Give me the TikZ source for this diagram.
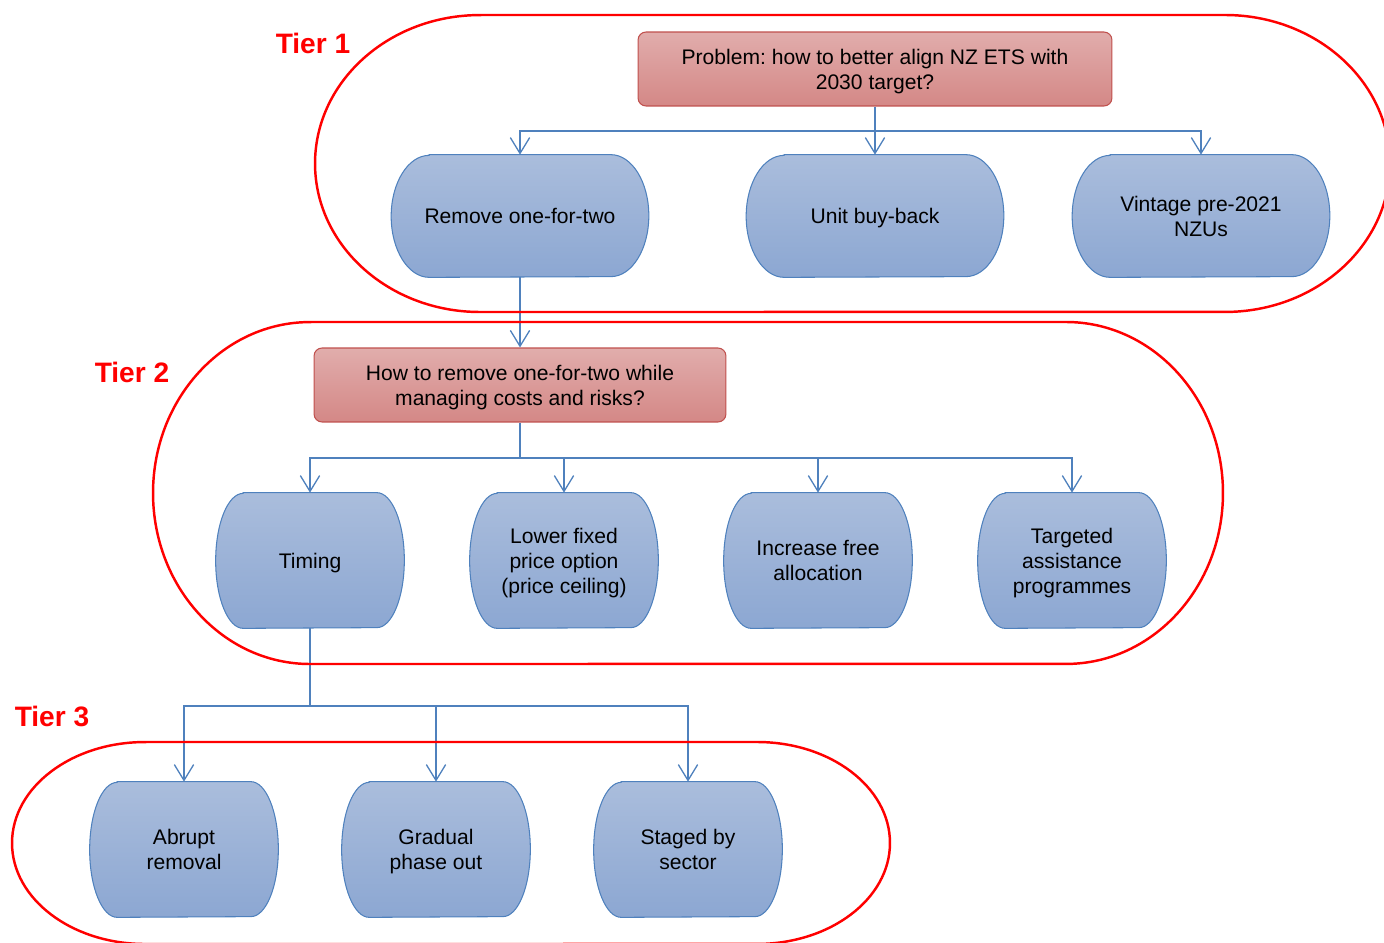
\documentclass[tikz,border=0pt]{standalone}
\usepackage{fontspec}
\setmainfont{Liberation Sans}
\usepackage{tikz}
\usepackage{xcolor}
\usetikzlibrary{arrows.meta,positioning,calc,backgrounds}
\definecolor{pilltop}{RGB}{170,189,220}
\definecolor{pillbot}{RGB}{140,167,210}
\definecolor{pillline}{RGB}{79,129,189}
\definecolor{qtop}{RGB}{225,173,172}
\definecolor{qbot}{RGB}{212,136,134}
\definecolor{qline}{RGB}{192,80,77}
\definecolor{tierred}{RGB}{255,0,0}
\frenchspacing

% flat top and bottom, bulging sides
\newcommand{\pillshape}[3]{%
  \path[top color=pilltop,bottom color=pillbot,draw=pillline,line width=0.6pt]
    ($(#1.north west)+(#2,0)$) -- ($(#1.north east)-(#2,0)$)
    arc[start angle=90,end angle=-90,x radius=#2,y radius=#3]
    -- ($(#1.south west)+(#2,0)$)
    arc[start angle=270,end angle=90,x radius=#2,y radius=#3] -- cycle;}

\begin{document}
\begin{tikzpicture}[x=0.02cm,y=-0.02cm,
  txt/.style={align=center,inner sep=0pt,text depth=0pt,font=\fontsize{12}{14.2}\selectfont},
  question/.style={txt,draw=qline,line width=0.6pt,top color=qtop,bottom color=qbot,rounded corners=0.16cm,minimum height=1.48cm},
  pillwide/.style={txt,minimum width=5.14cm,minimum height=2.44cm},
  pillnarrow/.style={txt,minimum width=3.76cm,minimum height=2.7cm},
  link/.style={draw=pillline,line width=0.75pt},
  arrowlink/.style={link,-{Straight Barb[length=9pt,width=11pt]}},
  tier/.style={draw=tierred,line width=1.4pt},
  tierlabel/.style={text=tierred,font=\fontsize{16}{19}\selectfont\bfseries}]
\useasboundingbox (0,0) rectangle (1384,943);

% Tier 1
\node[question,minimum width=9.48cm] (prob) at (875,69) {Problem: how to better align NZ ETS with\\2030 target?};
\node[pillwide] (rem) at (520,216) {Remove one-for-two};
\node[pillwide] (buy) at (875,216) {Unit buy-back};
\node[pillwide] (vint) at (1201,216) {Vintage pre-2021\\NZUs};

% Tier 2
\node[question,minimum width=8.24cm] (howto) at (520,385) {How to remove one-for-two while\\managing costs and risks?};
\node[pillnarrow] (timing) at (310,560.5) {Timing};
\node[pillnarrow] (lower) at (564,560.5) {Lower fixed\\price option\\(price ceiling)};
\node[pillnarrow] (incr) at (818,560.5) {Increase free\\allocation};
\node[pillnarrow] (targ) at (1072,560.5) {Targeted\\assistance\\programmes};

% Tier 3
\node[pillnarrow] (abrupt) at (184,849.5) {Abrupt\\removal};
\node[pillnarrow] (gradual) at (436,849.5) {Gradual\\phase out};
\node[pillnarrow] (staged) at (688,849.5) {Staged by\\sector};

\begin{scope}[on background layer]
\foreach \n in {rem,buy,vint} {\pillshape{\n}{0.76cm}{1.22cm}}
\foreach \n in {timing,lower,incr,targ,abrupt,gradual,staged} {\pillshape{\n}{0.55cm}{1.35cm}}
\end{scope}

% connectors
\coordinate (bus1) at (875,131);
\coordinate (bus2) at (520,458);
\coordinate (bus3) at (310,706);
\draw[link] (prob.south) -- (bus1);
\foreach \t in {rem,buy,vint} {\draw[arrowlink] (bus1) -| (\t.north);}
\draw[arrowlink] (rem.south) -- (howto.north);
\draw[link] (howto.south) -- (bus2);
\foreach \t in {timing,lower,incr,targ} {\draw[arrowlink] (bus2) -| (\t.north);}
\draw[link] (timing.south) -- (bus3);
\foreach \t in {abrupt,gradual,staged} {\draw[arrowlink] (bus3) -| (\t.north);}

% tier outlines
\draw[tier] (480,15) -- (1225,15) arc[start angle=90,end angle=-90,x radius=3.3cm,y radius=2.97cm]
  -- (480,312) arc[start angle=270,end angle=90,x radius=3.3cm,y radius=2.97cm] -- cycle;
\draw[tier] (310,322) -- (1066,322) arc[start angle=90,end angle=-90,x radius=3.14cm,y radius=3.42cm]
  -- (310,664) arc[start angle=270,end angle=90,x radius=3.14cm,y radius=3.42cm] -- cycle;
\draw[tier] (145,742) -- (757,742) arc[start angle=90,end angle=-90,x radius=2.66cm,y radius=2.02cm]
  -- (145,944) arc[start angle=270,end angle=90,x radius=2.66cm,y radius=2.02cm] -- cycle;

\node[tierlabel] (t1) at (313,43) {Tier 1};
\node[tierlabel] (t2) at (132,372) {Tier 2};
\node[tierlabel] (t3) at (52,716) {Tier 3};
\end{tikzpicture}
\end{document}
